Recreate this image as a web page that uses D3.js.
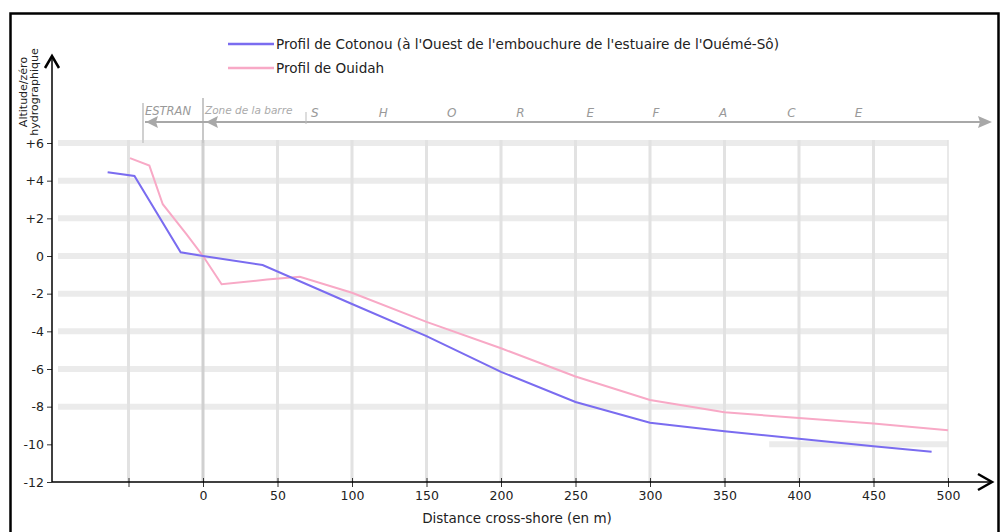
<!DOCTYPE html>
<html><head><meta charset="utf-8">
<script src="https://cdn.jsdelivr.net/npm/d3@7"></script>
<style>body{margin:0;background:#fff;} svg{display:block;font-family:"DejaVu Sans",Arial,sans-serif;}</style>
</head><body>
<svg id="c" width="1004" height="532"></svg>
<script>
// ---- data ----
const cotonouX = [-64, -46, -15, 0, 40, 100, 150, 200, 250, 300, 350, 400, 450, 489];
const cotonouY = [4.45, 4.25, 0.2, 0, -0.48, -2.55, -4.25, -6.15, -7.75, -8.85, -9.3, -9.7, -10.1, -10.4];
const ouidahX = [-49, -36, -27, -11, 0, 12.5, 43, 65, 100, 150, 200, 250, 300, 350, 400, 450, 500];
const ouidahY = [5.2, 4.8, 2.75, 1.15, 0, -1.5, -1.25, -1.1, -1.95, -3.5, -4.9, -6.4, -7.65, -8.3, -8.6, -8.9, -9.25];
const xTicks = [-50, 0, 50, 100, 150, 200, 250, 300, 350, 400, 450, 500];
const xTickLabels = ["", "0", "50", "100", "150", "200", "250", "300", "350", "400", "450", "500"];
const yTicks = [6, 4, 2, 0, -2, -4, -6, -8, -10, -12];
const yTickLabels = ["+6", "+4", "+2", "0", "-2", "-4", "-6", "-8", "-10", "-12"];
const bandValues = [6, 4, 2, 0, -2, -4, -6, -8];
const zoneLetters = ["S", "H", "O", "R", "E", "F", "A", "C", "E"];
const zoneLetterX = [75, 121, 167, 213, 260, 304, 349, 395, 440];
const seriesNames = ["Profil de Cotonou (à l'Ouest de l'embouchure de l'estuaire de l'Ouémé-Sô)", "Profil de Ouidah"];
const seriesColors = ["#7a6cf0", "#f8a9c6"];

const FONT = "'DejaVu Sans', Arial, sans-serif";
const svg = d3.select("#c");
const x = d3.scaleLinear().domain([0, 500]).range([203, 948]);
const y = d3.scaleLinear().domain([-12, 6]).range([482, 143]);
const axisX0 = 52;

// border
svg.append("rect").attr("x", 10.5).attr("y", 13.5).attr("width", 988).attr("height", 530)
  .attr("fill", "none").attr("stroke", "#000").attr("stroke-width", 2.5);

// grid bands
svg.selectAll(".band").data(bandValues).enter().append("line")
  .attr("x1", 58).attr("x2", x(500)).attr("y1", d => y(d)).attr("y2", d => y(d))
  .attr("stroke", "#ebebeb").attr("stroke-width", 6);
svg.append("line").attr("x1", x(380)).attr("x2", x(500)).attr("y1", y(-10)).attr("y2", y(-10))
  .attr("stroke", "#ebebeb").attr("stroke-width", 6);
// vertical grid
svg.selectAll(".vg").data(xTicks).enter().append("line")
  .attr("x1", d => x(d)).attr("x2", d => x(d)).attr("y1", y(6) - 3).attr("y2", y(-12))
  .attr("stroke", d => d === 0 ? "#d0d0d0" : "#e2e2e2").attr("stroke-width", d => d === 500 ? 1.5 : 3);

// top zone annotation
const gray = "#a8a8a8";
svg.append("line").attr("x1", x(0)).attr("x2", x(0)).attr("y1", 98).attr("y2", y(6))
  .attr("stroke", "#c8c8c8").attr("stroke-width", 2);
svg.append("line").attr("x1", 143).attr("x2", 143).attr("y1", 103).attr("y2", y(6))
  .attr("stroke", "#d0d0d0").attr("stroke-width", 2);
svg.append("line").attr("x1", 145).attr("x2", 982).attr("y1", 122).attr("y2", 122)
  .attr("stroke", gray).attr("stroke-width", 2);
svg.append("line").attr("x1", 306).attr("x2", 306).attr("y1", 112).attr("y2", 124)
  .attr("stroke", "#bbb").attr("stroke-width", 1);
svg.append("path").attr("d", "M146,122 L158,116 L156,122 L158,128 Z").attr("fill", gray);
svg.append("path").attr("d", "M206,122 L218,116 L216,122 L218,128 Z").attr("fill", gray);
svg.append("path").attr("d", "M992,122 L978,116 L980,122 L978,128 Z").attr("fill", gray);
svg.append("text").attr("x", 145).attr("y", 115).attr("font-size", 11.5).attr("font-style", "italic")
  .attr("fill", "#999").text("ESTRAN");
svg.append("text").attr("x", 205).attr("y", 114).attr("font-size", 10.5).attr("font-style", "italic")
  .attr("fill", "#aaa").text("Zone de la barre");
svg.selectAll(".zl").data(zoneLetters).enter().append("text")
  .attr("x", (d, i) => x(zoneLetterX[i])).attr("y", 117).attr("font-size", 12).attr("font-style", "italic")
  .attr("fill", "#999").attr("text-anchor", "middle").text(d => d);

// lines
const line = d3.line().x(d => x(d[0])).y(d => y(d[1]));
const ouidah = ouidahX.map((v, i) => [v, ouidahY[i]]);
const cotonou = cotonouX.map((v, i) => [v, cotonouY[i]]);
svg.append("path").datum(ouidah).attr("d", line).attr("fill", "none")
  .attr("stroke", seriesColors[1]).attr("stroke-width", 2);
svg.append("path").datum(cotonou).attr("d", line).attr("fill", "none")
  .attr("stroke", seriesColors[0]).attr("stroke-width", 2);

// axes
const ax = svg.append("g").attr("transform", `translate(0,${y(-12)})`)
  .call(d3.axisBottom(x).tickValues(xTicks).tickFormat((d, i) => xTickLabels[i]).tickSize(5).tickPadding(4));
ax.select(".domain").remove();
ax.selectAll("text").attr("font-size", 12.5).attr("fill", "#222").attr("font-family", FONT);
ax.selectAll("line").attr("stroke", "#333").attr("y1", -4);
svg.append("line").attr("x1", axisX0).attr("x2", 990).attr("y1", y(-12)).attr("y2", y(-12))
  .attr("stroke", "#000").attr("stroke-width", 1.5);
svg.append("path").attr("d", `M978,${y(-12) - 8} L992,${y(-12)} L978,${y(-12) + 8}`)
  .attr("fill", "none").attr("stroke", "#000").attr("stroke-width", 2.5);

const ay = svg.append("g").attr("transform", `translate(${axisX0},0)`)
  .call(d3.axisLeft(y).tickValues(yTicks).tickFormat((d, i) => yTickLabels[i]).tickSize(5).tickPadding(3));
ay.select(".domain").remove();
ay.selectAll("text").attr("font-size", 12.5).attr("fill", "#222").attr("font-family", FONT);
ay.selectAll("line").attr("stroke", "#333");
svg.append("line").attr("x1", axisX0).attr("x2", axisX0).attr("y1", y(-12)).attr("y2", 56)
  .attr("stroke", "#000").attr("stroke-width", 1.5);
svg.append("path").attr("d", `M${axisX0 - 7},68 L${axisX0},56 L${axisX0 + 7},68`)
  .attr("fill", "none").attr("stroke", "#000").attr("stroke-width", 2.5);

// axis titles
const yt = svg.append("text").attr("transform", "translate(27,92) rotate(-90)")
  .attr("font-size", 11).attr("text-anchor", "middle").attr("fill", "#222");
yt.append("tspan").attr("x", 0).attr("dy", 0).text("Altitude/zéro");
yt.append("tspan").attr("x", 0).attr("dy", 11).text("hydrographique");
svg.append("text").attr("x", 517).attr("y", 523).attr("text-anchor", "middle")
  .attr("font-size", 13.5).attr("fill", "#222").text("Distance cross-shore (en m)");

// legend
const lg = svg.selectAll(".lg").data(seriesNames).enter().append("g")
  .attr("transform", (d, i) => `translate(228,${44 + i * 24})`);
lg.append("line").attr("x1", 0).attr("x2", 46).attr("stroke", (d, i) => seriesColors[i]).attr("stroke-width", 2.5);
lg.append("text").attr("x", 48).attr("y", 5).attr("font-size", 13.6).attr("fill", "#222").text(d => d);
</script>
</body></html>
